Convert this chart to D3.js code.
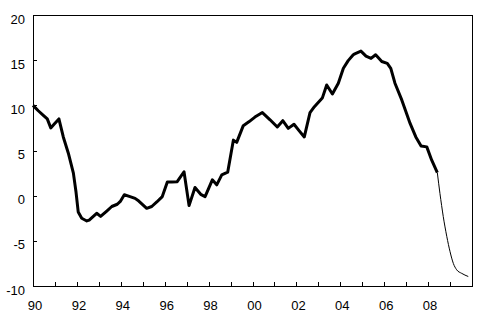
<!DOCTYPE html>
<html>
<head>
<meta charset="utf-8">
<script src="https://cdn.jsdelivr.net/npm/d3@7"></script>
<style>
  body { margin: 0; background: #fff; }
  svg { display: block; }
  text { font-family: Arial, "Liberation Sans", sans-serif; font-size: 13px; fill: #000; }
</style>
</head>
<body>
<svg id="chart"></svg>
<script>
// actual series (decimal year, value)
const actualYears = [1990.00, 1990.24, 1990.47, 1990.65, 1990.81, 1990.96, 1991.18, 1991.38, 1991.61, 1991.84,
  1991.96, 1992.06, 1992.22, 1992.45, 1992.56, 1992.90, 1993.08, 1993.36, 1993.59, 1993.84,
  1993.99, 1994.16, 1994.42, 1994.65, 1994.82, 1995.18, 1995.41, 1995.64, 1995.89, 1996.12,
  1996.32, 1996.57, 1996.88, 1997.11, 1997.38, 1997.64, 1997.84, 1998.17, 1998.37, 1998.60,
  1998.87, 1999.13, 1999.28, 1999.58, 1999.85, 2000.11, 2000.45, 2000.80, 2001.13, 2001.38,
  2001.63, 2001.89, 2002.12, 2002.36, 2002.62, 2002.82, 2003.18, 2003.38, 2003.64, 2003.91,
  2004.14, 2004.36, 2004.59, 2004.66, 2004.94, 2005.17, 2005.40, 2005.61, 2005.89, 2006.14,
  2006.30, 2006.49, 2006.80, 2006.99, 2007.18, 2007.44, 2007.68, 2007.94, 2008.16, 2008.42];
const actualValues = [10.0, 9.4, 8.9, 8.5, 7.5, 7.9, 8.5, 6.5, 4.7, 2.5,
  0.4, -1.8, -2.5, -2.8, -2.7, -1.95, -2.3, -1.7, -1.2, -0.95,
  -0.6, 0.1, -0.1, -0.3, -0.6, -1.4, -1.2, -0.7, -0.1, 1.5,
  1.5, 1.55, 2.65, -1.1, 0.9, 0.15, -0.1, 1.75, 1.2, 2.3,
  2.6, 6.15, 5.9, 7.75, 8.2, 8.7, 9.2, 8.4, 7.6, 8.3,
  7.45, 7.9, 7.2, 6.5, 9.2, 9.85, 10.8, 12.25, 11.25, 12.45,
  14.1, 14.95, 15.6, 15.7, 16.0, 15.45, 15.2, 15.6, 14.85, 14.65,
  14.1, 12.45, 10.6, 9.3, 8.0, 6.5, 5.5, 5.4, 3.95, 2.55];

// forecast series
const forecastYears = [2008.42, 2008.54, 2008.69, 2008.85, 2009.00, 2009.15, 2009.30, 2009.53, 2009.83];
const forecastValues = [2.55, 0.25, -2.3, -4.5, -6.2, -7.5, -8.2, -8.6, -8.95];

const yTicks = [-10, -5, 0, 5, 10, 15, 20];
const xTickYears = d3.range(1990, 2011);
const xLabels = ["90", "92", "94", "96", "98", "00", "02", "04", "06", "08"];

const W = 487, H = 320;
const margin = { top: 15, right: 15, bottom: 34, left: 33 };

const svg = d3.select("#chart").attr("width", W).attr("height", H);

const x = d3.scaleLinear().domain([1990, 2010]).range([margin.left, W - margin.right]);
const y = d3.scaleLinear().domain([-10, 20]).range([H - margin.bottom, margin.top]);

// frame
svg.append("rect")
  .attr("x", x(1990) + 0.5).attr("y", y(20) + 0.5)
  .attr("width", x(2010) - x(1990)).attr("height", y(-10) - y(20))
  .attr("fill", "none").attr("stroke", "#000").attr("stroke-width", 1);

// y ticks (inside)
svg.append("g").selectAll("line").data(yTicks).enter().append("line")
  .attr("x1", x(1990)).attr("x2", x(1990) + 4)
  .attr("y1", d => Math.round(y(d)) + 0.5).attr("y2", d => Math.round(y(d)) + 0.5)
  .attr("stroke", "#000");
svg.append("g").selectAll("text").data(yTicks).enter().append("text")
  .attr("x", x(1990) - 8).attr("y", d => y(d) + 4)
  .attr("dy", "0.35em").attr("text-anchor", "end")
  .text(d => d);

// x ticks (inside)
svg.append("g").selectAll("line").data(xTickYears).enter().append("line")
  .attr("x1", d => Math.round(x(d)) + 0.5).attr("x2", d => Math.round(x(d)) + 0.5)
  .attr("y1", y(-10)).attr("y2", y(-10) - 4)
  .attr("stroke", "#000");
svg.append("g").selectAll("text").data(xLabels).enter().append("text")
  .attr("x", (d, i) => x(1990 + 2 * i) + 2).attr("y", y(-10) + 23.5)
  .attr("text-anchor", "middle")
  .text(d => d);

const actual = actualYears.map((d, i) => [d, actualValues[i]]);
const forecast = forecastYears.map((d, i) => [d, forecastValues[i]]);

svg.append("path").datum(forecast)
  .attr("d", d3.line().x(d => x(d[0])).y(d => y(d[1])).curve(d3.curveMonotoneX))
  .attr("fill", "none").attr("stroke", "#000").attr("stroke-width", 1);

svg.append("path").datum(actual)
  .attr("d", d3.line().x(d => x(d[0])).y(d => y(d[1])))
  .attr("fill", "none").attr("stroke", "#000").attr("stroke-width", 3)
  .attr("stroke-linejoin", "round");
</script>
</body>
</html>
